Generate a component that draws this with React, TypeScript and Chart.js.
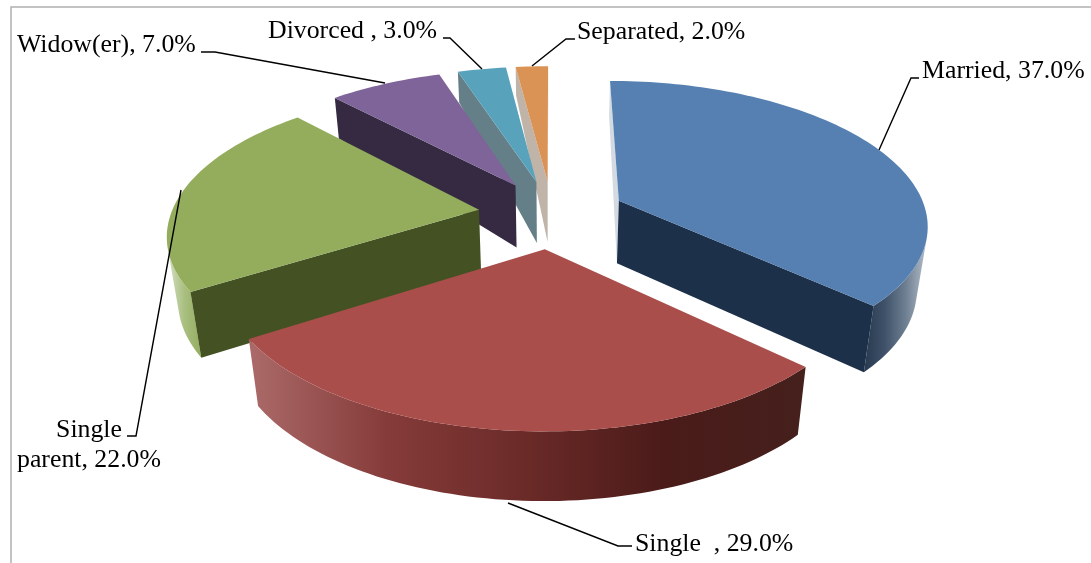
import React, { useEffect, useRef } from "react";
import { Chart, registerables } from "chart.js";

Chart.register(...registerables);

// Marital status shares, clockwise from twelve o'clock.
const categories = ["Married", "Single  ", "Single parent", "Widow(er)", "Divorced ", "Separated"];
const shares = [37, 29, 22, 7, 3, 2];

const topColors = ["#5680b1", "#a94e4b", "#93ad5d", "#7f6499", "#58a3bb", "#da9355"];
const faceColors = ["#1c3049", "#4a211e", "#445223", "#352a42", "#647f88", "#c0b3a8"];
const startFaceColors = ["#d3dae2", "#4a211e", "#445223", "#352a42", "#647f88", "#c0b3a8"];
const rimStops: string[][] = [
  ["#26394f", "#3f5269", "#6f8093", "#b4bec9"],
  ["#ab6a69", "#853b39", "#6a2a28", "#4a1b19", "#45201c"],
  ["#d4dfc2", "#a9bf80", "#93ad5d"],
  ["#352a42", "#352a42"],
  ["#647f88", "#647f88"],
  ["#c0b3a8", "#c0b3a8"],
];

// Projection of the pie plane onto the page.
const CX = 552, CY = 214, AX = 308, BY = 142, PERSP = 0.154, EXPLODE = 0.24;
const LEAN = 0.03;

const depthTable = [
  [-1.3, 25],
  [-1.06, 37],
  [-0.2, 62],
  [1.3, 70],
];

function wallHeight(y: number) {
  for (let i = 1; i < depthTable.length; i++) {
    const [y0, h0] = depthTable[i - 1];
    const [y1, h1] = depthTable[i];
    if (y <= y1) return h0 + ((h1 - h0) * (Math.max(y, y0) - y0)) / (y1 - y0);
  }
  return depthTable[depthTable.length - 1][1];
}

type Pt = { x: number; y: number };

function project(wx: number, wy: number): Pt {
  const s = 1 / (1 - PERSP * wy);
  return { x: CX + AX * wx * s, y: CY + BY * wy * s };
}

function drop(wx: number, wy: number): Pt {
  const p = project(wx, wy);
  const h = wallHeight(wy);
  return { x: p.x - (p.x - CX) * LEAN * (h / 66), y: p.y + h };
}

function outward(a: Pt, b: Pt, aBelow: Pt) {
  return (b.x - a.x) * (aBelow.y - a.y) - (b.y - a.y) * (aBelow.x - a.x) < 0;
}

function fillPoly(ctx: CanvasRenderingContext2D, pts: Pt[], fill: string | CanvasGradient) {
  ctx.beginPath();
  pts.forEach((p, i) => (i ? ctx.lineTo(p.x, p.y) : ctx.moveTo(p.x, p.y)));
  ctx.closePath();
  ctx.fillStyle = fill;
  ctx.fill();
}

function drawWedge(ctx: CanvasRenderingContext2D, arc: any, i: number) {
  const mid = (arc.startAngle + arc.endAngle) / 2;
  const ox = Math.cos(mid) * EXPLODE;
  const oy = Math.sin(mid) * EXPLODE;
  const steps = Math.max(6, Math.round((arc.endAngle - arc.startAngle) * 40));
  const world: [number, number][] = [];
  for (let k = 0; k <= steps; k++) {
    const a = arc.startAngle + ((arc.endAngle - arc.startAngle) * k) / steps;
    world.push([ox + Math.cos(a), oy + Math.sin(a)]);
  }
  const top = world.map(([x, y]) => project(x, y));
  const low = world.map(([x, y]) => drop(x, y));
  const apexTop = project(ox, oy);
  const apexLow = drop(ox, oy);

  // Curved rim: only the run of segments that faces the viewer.
  let first = -1, last = -1;
  for (let k = 0; k < steps; k++) {
    if (outward(top[k], top[k + 1], low[k])) {
      if (first < 0) first = k;
      last = k + 1;
    }
  }
  if (first >= 0) {
    const run = top.slice(first, last + 1);
    const runLow = low.slice(first, last + 1);
    const xs = run.concat(runLow).map((p) => p.x);
    const g = ctx.createLinearGradient(Math.min(...xs), 0, Math.max(...xs), 0);
    rimStops[i].forEach((c, n) => g.addColorStop(n / (rimStops[i].length - 1), c));
    fillPoly(ctx, run.concat(runLow.reverse()), g);
  }

  // Cut faces along the two radii.
  if (outward(apexTop, top[0], apexLow)) {
    fillPoly(ctx, [apexTop, top[0], low[0], apexLow], startFaceColors[i]);
  }
  if (outward(top[steps], apexTop, low[steps])) {
    fillPoly(ctx, [top[steps], apexTop, apexLow, low[steps]], faceColors[i]);
  }

  fillPoly(ctx, [apexTop, ...top], arc.options.backgroundColor);
}

const wedges3d = {
  id: "wedges3d",
  beforeDatasetDraw(chart: any) {
    const { ctx } = chart;
    const arcs = chart.getDatasetMeta(0).data.map((arc: any, i: number) => ({ arc, i }));
    arcs.sort(
      (a: any, b: any) =>
        Math.sin((a.arc.startAngle + a.arc.endAngle) / 2) -
        Math.sin((b.arc.startAngle + b.arc.endAngle) / 2),
    );
    ctx.save();
    arcs.forEach(({ arc, i }: any) => drawWedge(ctx, arc, i));
    ctx.restore();
    return false;
  },
};

const label = (i: number) => `${categories[i]}, ${shares[i].toFixed(1)}%`;

// Text anchors and leader lines for each slice label.
const labelLayout: { lines: string[]; x: number; y: number; align: CanvasTextAlign; leader: number[][] }[] = [
  { lines: [label(0)], x: 922, y: 71, align: "left", leader: [[879, 150], [911, 78], [919, 78]] },
  { lines: [label(1)], x: 635, y: 544, align: "left", leader: [[508, 503], [618, 546], [632, 546]] },
  {
    lines: ["Single", `parent, ${shares[2].toFixed(1)}%`],
    x: 89,
    y: 430,
    align: "center",
    leader: [[181, 190], [136, 436], [127, 436]],
  },
  { lines: [label(3)], x: 17, y: 45, align: "left", leader: [[385, 83], [215, 52], [201, 52]] },
  { lines: [label(4)], x: 268, y: 31, align: "left", leader: [[482, 69], [450, 38], [443, 38]] },
  { lines: [label(5)], x: 577, y: 32, align: "left", leader: [[532, 66], [566, 39], [575, 39]] },
];

const frameAndLabels = {
  id: "frameAndLabels",
  beforeDraw(chart: any) {
    const { ctx } = chart;
    ctx.save();
    ctx.strokeStyle = "#b0b0b0";
    ctx.lineWidth = 1.5;
    ctx.beginPath();
    ctx.moveTo(11, 563);
    ctx.lineTo(11, 7);
    ctx.lineTo(1091, 7);
    ctx.stroke();
    ctx.restore();
  },
  afterDraw(chart: any) {
    const { ctx } = chart;
    ctx.save();
    ctx.strokeStyle = "#000000";
    ctx.lineWidth = 1.4;
    ctx.fillStyle = "#000000";
    ctx.font = '25.8px "Liberation Serif"';
    ctx.textBaseline = "middle";
    labelLayout.forEach((l) => {
      ctx.beginPath();
      l.leader.forEach(([x, y], n) => (n ? ctx.lineTo(x, y) : ctx.moveTo(x, y)));
      ctx.stroke();
      ctx.textAlign = l.align;
      l.lines.forEach((t, n) => ctx.fillText(t, l.x, l.y + n * 30));
    });
    ctx.restore();
  },
};

export default function App() {
  const ref = useRef<HTMLCanvasElement>(null);
  useEffect(() => {
    const chart = new Chart(ref.current as HTMLCanvasElement, {
      type: "pie",
      data: {
        labels: categories,
        datasets: [{ data: shares, backgroundColor: topColors, borderWidth: 0 }],
      },
      options: {
        animation: false,
        responsive: false,
        events: [],
        plugins: { legend: { display: false }, tooltip: { enabled: false } },
      },
      plugins: [wedges3d, frameAndLabels],
    } as any);
    return () => chart.destroy();
  }, []);
  return (
    <div style={{ position: "absolute", left: 0, top: 0, width: 1091, height: 563, background: "#ffffff" }}>
      <canvas ref={ref} width={1091} height={563} style={{ display: "block" }} />
    </div>
  );
}
